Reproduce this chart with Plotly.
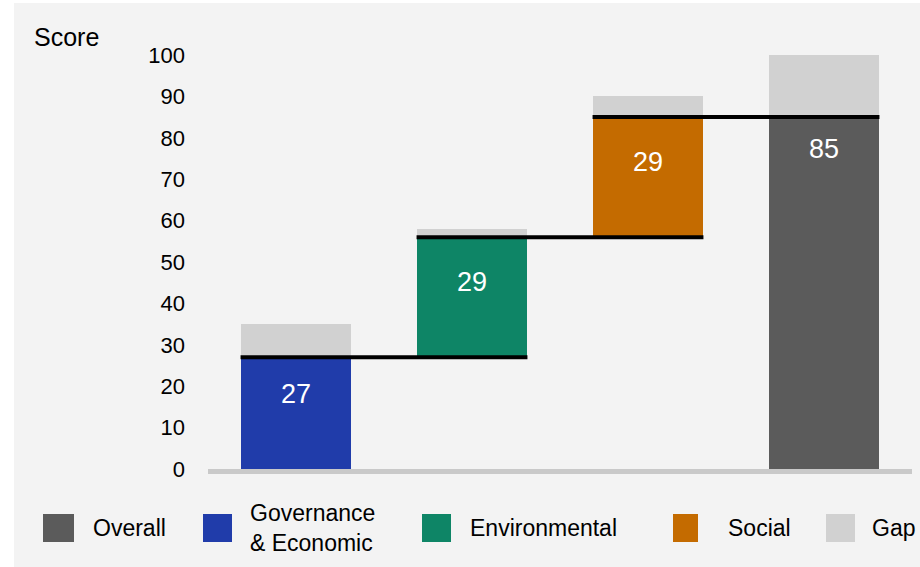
import plotly.graph_objects as go

# ---- data -------------------------------------------------------------
pillars = ["Governance & Economic", "Environmental", "Social"]
pillar_scores = [27, 29, 29]
pillar_maxima = [35, 58, 90]          # top of each grey "gap" block
overall_score = 85
overall_max = 100
y_ticks = [0, 10, 20, 30, 40, 50, 60, 70, 80, 90, 100]
legend_labels = ["Overall", "Governance<br>& Economic", "Environmental", "Social", "Gap"]

# ---- styling ----------------------------------------------------------
FONT = "Liberation Sans, Arial, sans-serif"
C_OVERALL = "#5b5b5b"
C_PILLARS = ["#203caa", "#0e8566", "#c46b00"]
C_GAP = "#d1d1d1"
BG = "#f3f3f3"
BAR_W = 0.63
LABEL_SHIFT = [-37, -45, -45, -32]

W, H = 920, 567
ML, MR, MT, MB = 208, 8, 55, 98
PW, PH = W - ML - MR, H - MT - MB


def fx(px):
    return (px - ML) / PW


def fy(py):
    return (H - MB - py) / PH


# running bases for the waterfall
bases = []
run = 0
for s in pillar_scores:
    bases.append(run)
    run += s

xs = list(range(len(pillars) + 1))
all_scores = pillar_scores + [overall_score]
all_bases = bases + [0]
all_tops = [b + s for b, s in zip(all_bases, all_scores)]
all_max = pillar_maxima + [overall_max]
gaps = [m - t for m, t in zip(all_max, all_tops)]
colors = C_PILLARS + [C_OVERALL]

fig = go.Figure()

# grey gap blocks sitting on top of each score
fig.add_trace(go.Bar(x=xs, y=gaps, base=all_tops, width=BAR_W,
                     marker=dict(color=C_GAP, line_width=0),
                     showlegend=False, hoverinfo="skip"))

# score bars
fig.add_trace(go.Bar(x=xs, y=all_scores, base=all_bases, width=BAR_W,
                     marker=dict(color=colors, line_width=0),
                     showlegend=False, hoverinfo="skip"))

# connector lines linking each step to the next
for i in range(len(pillars)):
    level = all_tops[i]
    fig.add_trace(go.Scatter(x=[xs[i] - BAR_W / 2, xs[i + 1] + BAR_W / 2],
                             y=[level, level], mode="lines",
                             line=dict(color="black", width=4),
                             showlegend=False, hoverinfo="skip"))

annotations = []
# value labels inside the bars
for x, top, s, sh in zip(xs, all_tops, all_scores, LABEL_SHIFT):
    annotations.append(dict(x=x, y=top, xref="x", yref="y", text=str(s),
                            showarrow=False, yanchor="middle", yshift=sh,
                            font=dict(family=FONT, size=27, color="white")))

# axis title
annotations.append(dict(x=fx(32), y=fy(37), xref="paper", yref="paper",
                        text="Score", showarrow=False, xanchor="left",
                        yanchor="middle",
                        font=dict(family=FONT, size=25, color="black")))

shapes = [
    # page background panel
    dict(type="rect", xref="paper", yref="paper", layer="below",
         x0=fx(14), x1=fx(W + 2), y0=fy(H + 2), y1=fy(3),
         fillcolor=BG, line_width=0),
]

# legend built from swatches + text
legend_colors = [C_OVERALL] + C_PILLARS + [C_GAP]
swatch_x = [(43, 74), (203, 232), (422, 451), (673, 698), (826, 855)]
text_x = [91, 248, 468, 726, 870]
for (x0, x1), col, tx, lab in zip(swatch_x, legend_colors, text_x, legend_labels):
    shapes.append(dict(type="rect", xref="paper", yref="paper",
                       x0=fx(x0), x1=fx(x1), y0=fy(542), y1=fy(514),
                       fillcolor=col, line_width=0))
    annotations.append(dict(x=fx(tx), y=fy(528), xref="paper", yref="paper",
                            text=lab, showarrow=False, xanchor="left",
                            yanchor="middle", align="left",
                            font=dict(family=FONT, size=23, color="black")))

fig.update_layout(
    width=W, height=H,
    margin=dict(l=ML, r=MR, t=MT, b=MB, pad=0),
    paper_bgcolor="white",
    plot_bgcolor="rgba(0,0,0,0)",
    barmode="overlay",
    bargap=0,
    showlegend=False,
    shapes=shapes,
    annotations=annotations,
    xaxis=dict(range=[-0.5, len(xs) - 0.5], showticklabels=False,
               showgrid=False, zeroline=False, showline=True,
               linecolor="#c9c9c9", linewidth=5, ticks=""),
    yaxis=dict(range=[0, overall_max], tickvals=y_ticks, showgrid=False,
               zeroline=False, showline=False, ticks="",
               ticklabelstandoff=22,
               tickfont=dict(family=FONT, size=22, color="black")),
)

fig.write_html("out.html")
